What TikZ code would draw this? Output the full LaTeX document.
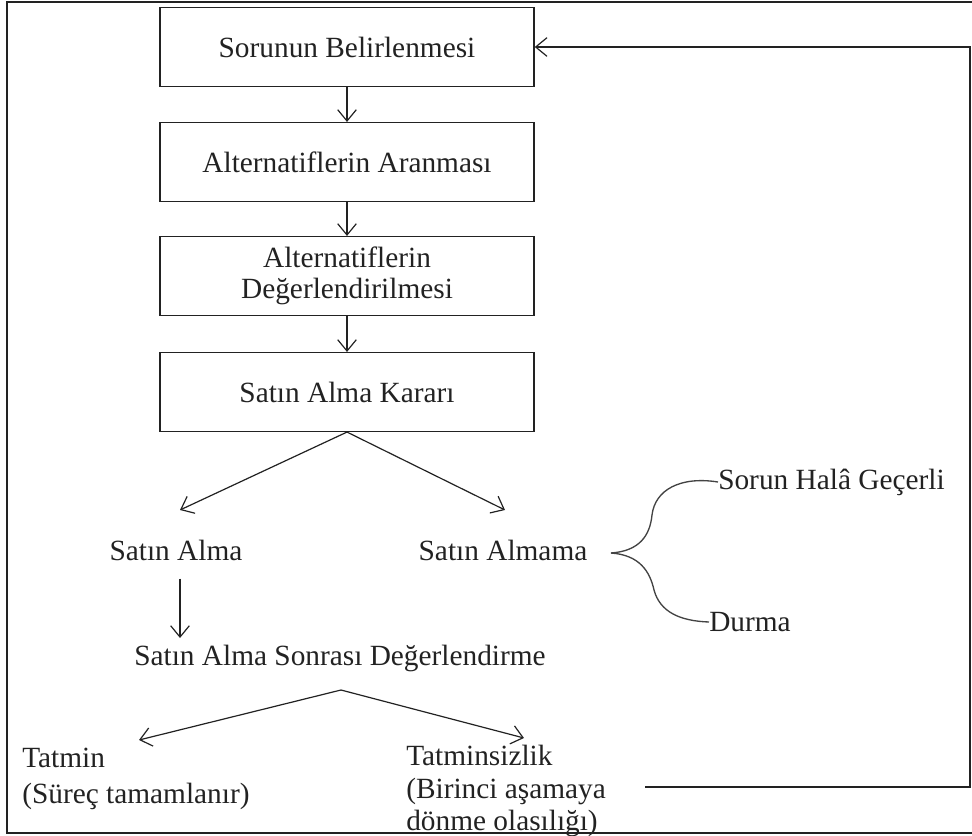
\documentclass[tikz,border=0pt]{standalone}
\usepackage{fontspec}
\setmainfont{Liberation Serif}
\usetikzlibrary{arrows.meta}
\definecolor{ink}{HTML}{222222}
\tikzset{
  boxnode/.style={draw=ink, line width=1.1pt, minimum width=280.5pt, minimum height=59pt, align=center, inner sep=2pt, text=ink},
  plain/.style={text=ink, inner sep=0pt, align=left},
  arr/.style={draw=ink, line width=0.9pt, -{Straight Barb[length=8.5pt,width=14pt,line width=0.9pt]}},
  brace/.style={draw=ink!85, line width=1pt}
}
\begin{document}
\begin{tikzpicture}[x=0.75pt,y=-0.75pt,font=\fontsize{22}{23.5}\selectfont]
\useasboundingbox (0,0) rectangle (972,836);
% frame
\draw[ink, line width=1.3pt] (972,2) -- (7,2) -- (7,833) -- (972,833);
% boxes
\node[boxnode] (b1) at (347,47) {Sorunun Belirlenmesi};
\node[boxnode] (b2) at (347,162) {Alternatiflerin Aranması};
\node[boxnode] (b3) at (347,276) {Alternatiflerin\\Değerlendirilmesi};
\node[boxnode] (b4) at (347,392) {Satın Alma Kararı};
\draw[arr] (b1) -- (b2);
\draw[arr] (b2) -- (b3);
\draw[arr] (b3) -- (b4);
% decision
\node[plain] (sa) at (176,550) {Satın Alma};
\node[plain] (sam) at (503,550) {Satın Almama};
\coordinate (tl) at (180,510);
\coordinate (tr) at (505,510);
\draw[arr] (b4.south) -- (tl);
\draw[arr] (b4.south) -- (tr);
% brace
\node[plain, anchor=west] (sh) at (718,482) {Sorun Halâ Geçerli};
\node[plain, anchor=west] (du) at (709,622) {Durma};
\coordinate (bp) at (611,553);
\draw[brace] (bp) .. controls (640,551) and (650,535) .. (652,515)
  .. controls (655,490) and (680,476) .. (sh.west);
\draw[brace] (bp) .. controls (640,555) and (650,572) .. (654,590)
  .. controls (660,612) and (680,621) .. (du.west);
% post purchase
\node[plain] (ps) at (340,658) {Satın Alma Sonrası Değerlendirme};
\draw[arr] (sa.south -| 180,0) ++(0,18) -- (180,638);
\coordinate (ap) at (341,690);
\coordinate (ltip) at (139,740);
\coordinate (rtip) at (524,738);
\draw[arr] (ap) -- (ltip);
\draw[arr] (ap) -- (rtip);
\node[plain, anchor=north west, font=\fontsize{22}{27}\selectfont] (tm) at (22,748) {Tatmin\\(Süreç tamamlanır)};
\node[plain, anchor=north west, font=\fontsize{22}{24.5}\selectfont] (ts) at (406,745) {Tatminsizlik\\(Birinci aşamaya\\dönme olasılığı)};
% feedback
\coordinate (fb) at (645,787);
\coordinate (fc) at (970,787);
\coordinate (fd) at (970,47);
\draw[arr] (fb) -- (fc) -- (fd) -- (b1.east);
\end{tikzpicture}
\end{document}
